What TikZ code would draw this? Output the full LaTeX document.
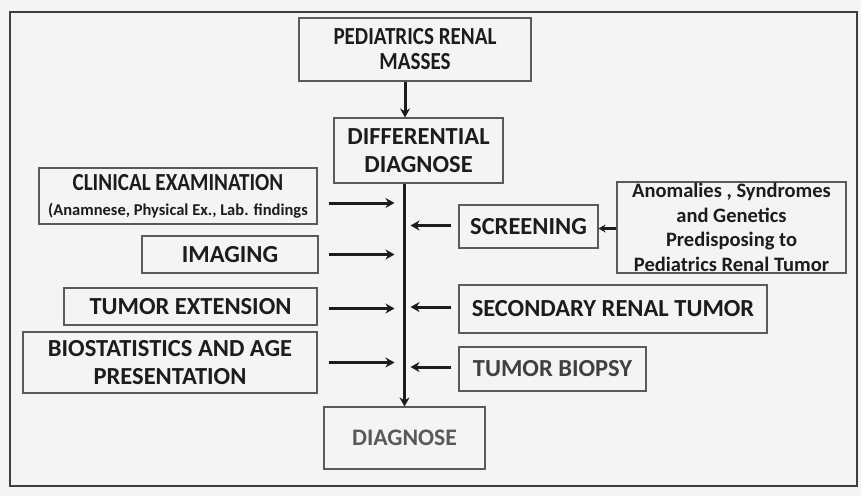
\documentclass[tikz,border=0pt]{standalone}
\usepackage{fontspec}
\setmainfont{Carlito}
\newfontfamily\condfont{Carlito}[FakeStretch=0.86]
\usetikzlibrary{arrows.meta}
\definecolor{paper}{HTML}{F4F4F2}
\definecolor{boxline}{HTML}{5A5A5A}
\definecolor{ink}{HTML}{1C1C1C}
\begin{document}
\begin{tikzpicture}[x=1pt,y=-1pt,
  box/.style={draw=boxline, line width=1.1pt, align=center, inner sep=0pt, text=ink,
    font=\bfseries\fontsize{24.5}{28}\selectfont},
  cond/.style={font=\condfont\bfseries\fontsize{24.5}{25}\selectfont},
  flow/.style={draw=ink, line width=3pt, -{Stealth[length=9pt,width=10pt]}},
  small/.style={draw=ink, line width=2.4pt, -{Stealth[length=7pt,width=8pt]}}]
\fill[paper] (0,0) rectangle (861,496);
\useasboundingbox (0,0) rectangle (861,496);
\draw[draw=ink!85, line width=1.8pt] (10,12) rectangle (857,486);

\node[box, cond, minimum width=232pt, minimum height=63pt] (masses) at (415,49.5) {PEDIATRICS RENAL\\MASSES};
\node[box, minimum width=169pt, minimum height=65pt] (diff) at (418.5,150.5) {DIFFERENTIAL\\DIAGNOSE};
\node[box, text=black!65, font=\bfseries\fontsize{23.7}{28}\selectfont, minimum width=161pt, minimum height=62pt] (diag) at (404.5,438) {DIAGNOSE};

\node[box, minimum width=278pt, minimum height=56pt] (clin) at (178,196)
  {{\condfont\fontsize{24.5}{24}\selectfont CLINICAL EXAMINATION}\\[-3pt]{\fontsize{16.5}{18}\selectfont (Anamnese, Physical Ex., Lab. findings}};
\node[box, minimum width=176pt, minimum height=37pt] (img) at (230,254.5) {IMAGING};
\node[box, minimum width=253pt, minimum height=37pt] (ext) at (190.5,306.5) {TUMOR EXTENSION};
\node[box, minimum width=294pt, minimum height=61pt] (bio) at (170,362.5) {BIOSTATISTICS AND AGE\\PRESENTATION};

\node[box, minimum width=139pt, minimum height=43pt] (scr) at (528.5,226.5) {SCREENING};
\node[box, font=\bfseries\fontsize{20.5}{24.5}\selectfont, minimum width=229pt, minimum height=91pt] (anom) at (731.5,227.5)
  {Anomalies , Syndromes\\and Genetics\\Predisposing to\\Pediatrics Renal Tumor};
\node[box, minimum width=308pt, minimum height=48pt] (sec) at (613,309) {SECONDARY RENAL TUMOR};
\node[box, text=black!75, minimum width=187pt, minimum height=44pt] (biop) at (552.5,369) {TUMOR BIOPSY};

\coordinate (trunk) at (405,0);
\draw[flow] (masses.south -| trunk) -- (diff.north -| trunk);
\draw[flow] (diff.south -| diag.north) -- (diag.north);

\draw[flow, shorten >=10pt] ([xshift=11pt,yshift=-7pt]clin.east) -- ([yshift=-7pt]clin.east -| diag.north);
\draw[flow, shorten >=10pt] ([xshift=10pt]img.east) -- (img.east -| diag.north);
\draw[flow, shorten >=10pt] ([xshift=11pt,yshift=-2pt]ext.east) -- ([yshift=-2pt]ext.east -| diag.north);
\draw[flow, shorten >=10pt] ([xshift=11pt]bio.east) -- (bio.east -| diag.north);

\draw[flow, shorten >=6pt] ([xshift=-7pt,yshift=1pt]scr.west) -- ([yshift=1pt]scr.west -| diag.north);
\draw[flow, shorten >=6pt] ([xshift=-7pt,yshift=2pt]sec.west) -- ([yshift=2pt]sec.west -| diag.north);
\draw[flow, shorten >=6pt] ([xshift=-7pt,yshift=2pt]biop.west) -- ([yshift=2pt]biop.west -| diag.north);

\draw[small] ([yshift=-1pt]anom.west) -- ([yshift=-1pt]anom.west -| scr.east);
\end{tikzpicture}
\end{document}
